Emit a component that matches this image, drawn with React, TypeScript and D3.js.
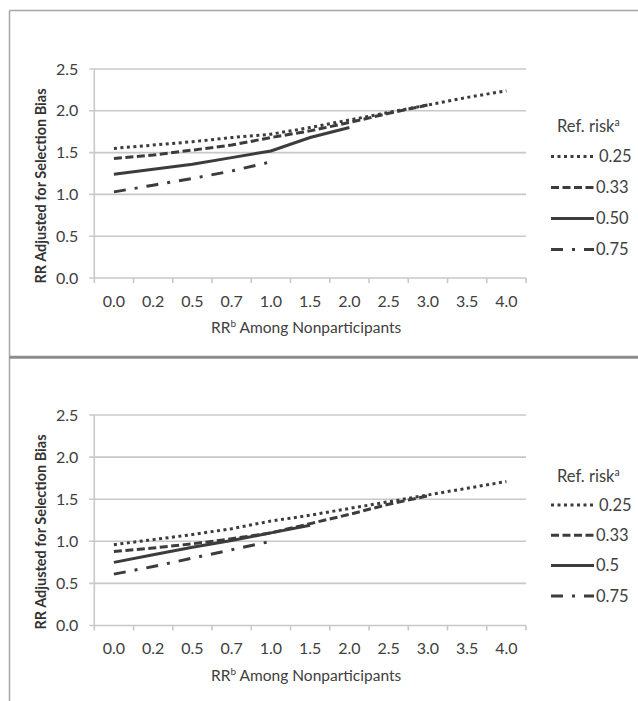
import React, { useEffect, useRef } from 'react';
import * as d3 from 'd3';

// x categories: RR among nonparticipants
const categories = ['0.0', '0.2', '0.5', '0.7', '1.0', '1.5', '2.0', '2.5', '3.0', '3.5', '4.0'];
const yTicks = [0, 0.5, 1, 1.5, 2, 2.5];

// top panel, one array per reference risk
const topRisk025 = [1.55, 1.59, 1.63, 1.68, 1.72, 1.80, 1.89, 1.98, 2.07, 2.16, 2.24];
const topRisk033 = [1.43, 1.47, 1.53, 1.59, 1.68, 1.76, 1.86, 1.97, 2.07];
const topRisk050 = [1.24, 1.30, 1.36, 1.44, 1.52, 1.68, 1.80];
const topRisk075 = [1.03, 1.11, 1.19, 1.28, 1.39];
const topLegendLabels = ['0.25', '0.33', '0.50', '0.75'];

// bottom panel
const bottomRisk025 = [0.96, 1.02, 1.08, 1.15, 1.24, 1.31, 1.39, 1.47, 1.55, 1.63, 1.71];
const bottomRisk033 = [0.88, 0.92, 0.97, 1.03, 1.10, 1.21, 1.32, 1.44, 1.54];
const bottomRisk050 = [0.75, 0.84, 0.93, 1.01, 1.10, 1.19];
const bottomRisk075 = [0.61, 0.70, 0.80, 0.90, 1.00];
const bottomLegendLabels = ['0.25', '0.33', '0.5', '0.75'];

const legendTitle = 'Ref. risk';
const yTitle = 'RR Adjusted for Selection Bias';

// line styles for 0.25, 0.33, 0.50, 0.75
const dashes = ['3,3.5', '8,3.5', null, '12,9,3,9'];

const FONT = 'Lato, "Open Sans", sans-serif';
const TEXT = '#404040';
const LINE = '#3c3c3c';
const GRID = '#c8c8c8';

const drawPanel = (svg, opts) => {
  const { top, bottom, series, legendLabels, legendTitleY, legendY0, legendStep } = opts;
  const left = 94.3;
  const right = 526;

  const x = d3.scaleBand().domain(categories).range([left, right]);
  const y = d3.scaleLinear().domain([0, 2.5]).range([bottom, top]);
  const g = svg.append('g');

  // gridlines (with 5px stub left of the axis)
  g.selectAll('line.grid')
    .data(yTicks)
    .join('line')
    .attr('x1', left - 5)
    .attr('x2', right)
    .attr('y1', d => y(d))
    .attr('y2', d => y(d))
    .attr('stroke', GRID)
    .attr('stroke-width', 1.6);

  // y axis line
  g.append('line')
    .attr('x1', left).attr('x2', left)
    .attr('y1', y(2.5)).attr('y2', y(0))
    .attr('stroke', GRID)
    .attr('stroke-width', 1.6);

  // y tick labels
  g.selectAll('text.ytick')
    .data(yTicks)
    .join('text')
    .attr('x', left - 16)
    .attr('y', d => y(d))
    .attr('dy', '0.35em')
    .attr('text-anchor', 'end')
    .attr('font-family', FONT)
    .attr('font-size', 16)
    .attr('fill', TEXT)
    .text(d => d3.format('.1f')(d));

  // x ticks at band boundaries
  const bounds = d3.range(categories.length + 1).map(i => left + i * x.step());
  g.selectAll('line.xtick')
    .data(bounds)
    .join('line')
    .attr('x1', d => d).attr('x2', d => d)
    .attr('y1', y(0)).attr('y2', y(0) + 5)
    .attr('stroke', GRID)
    .attr('stroke-width', 1.6);

  // x tick labels
  g.selectAll('text.xtick')
    .data(categories)
    .join('text')
    .attr('x', d => x(d) + x.bandwidth() / 2)
    .attr('y', y(0) + 23)
    .attr('dy', '0.35em')
    .attr('text-anchor', 'middle')
    .attr('font-family', FONT)
    .attr('font-size', 16)
    .attr('fill', TEXT)
    .text(d => d);

  // x title
  const xt = g.append('text')
    .attr('x', (left + right) / 2 - 4)
    .attr('y', y(0) + 50)
    .attr('dy', '0.35em')
    .attr('text-anchor', 'middle')
    .attr('font-family', FONT)
    .attr('font-size', 15.5)
    .attr('fill', TEXT);
  xt.append('tspan').text('RR');
  xt.append('tspan').attr('dy', -6).attr('font-size', 10).text('b');
  xt.append('tspan').attr('dy', 6).text(' Among Nonparticipants');

  // y title
  g.append('text')
    .attr('transform', `translate(41,${top + 117}) rotate(-90)`)
    .attr('dy', '0.35em')
    .attr('text-anchor', 'middle')
    .attr('font-family', FONT)
    .attr('font-size', 14.5)
    .attr('font-weight', 'bold')
    .attr('fill', '#333')
    .text(yTitle);

  // series
  const line = d3.line()
    .x((d, i) => x(categories[i]) + x.bandwidth() / 2)
    .y(d => y(d));

  series.forEach((values, k) => {
    g.append('path')
      .datum(values)
      .attr('fill', 'none')
      .attr('stroke', LINE)
      .attr('stroke-width', 3)
      .attr('stroke-dasharray', dashes[k])
      .attr('d', line);
  });

  // legend
  const lt = g.append('text')
    .attr('x', 557)
    .attr('y', legendTitleY)
    .attr('dy', '0.35em')
    .attr('font-family', FONT)
    .attr('font-size', 16.5)
    .attr('fill', TEXT);
  lt.append('tspan').text(legendTitle);
  lt.append('tspan').attr('dy', -6).attr('font-size', 10.5).text('a');

  legendLabels.forEach((label, k) => {
    const ly = legendY0 + k * legendStep;
    g.append('line')
      .attr('x1', 551).attr('x2', 594)
      .attr('y1', ly).attr('y2', ly)
      .attr('stroke', LINE)
      .attr('stroke-width', 3)
      .attr('stroke-dasharray', dashes[k]);
    g.append('text')
      .attr('x', k === 0 ? 599 : 596)
      .attr('y', ly)
      .attr('dy', '0.35em')
      .attr('font-family', FONT)
      .attr('font-size', 16.5)
      .attr('fill', TEXT)
      .text(label);
  });
};

const App = () => {
  const svgRef = useRef(null);

  useEffect(() => {
    const svg = d3.select(svgRef.current);
    svg.selectAll('*').remove();

    svg.append('rect').attr('width', 638).attr('height', 701).attr('fill', 'white');

    // outer frame and separator
    svg.append('line')
      .attr('x1', 9.5).attr('x2', 638).attr('y1', 10.5).attr('y2', 10.5)
      .attr('stroke', '#a6a6a6').attr('stroke-width', 1.5);
    svg.append('line')
      .attr('x1', 9.5).attr('x2', 9.5).attr('y1', 10.5).attr('y2', 701)
      .attr('stroke', '#a6a6a6').attr('stroke-width', 1.5);
    svg.append('line')
      .attr('x1', 9.5).attr('x2', 638).attr('y1', 357.3).attr('y2', 357.3)
      .attr('stroke', '#8c8c8c').attr('stroke-width', 3);

    drawPanel(svg, {
      top: 69,
      bottom: 278,
      series: [topRisk025, topRisk033, topRisk050, topRisk075],
      legendLabels: topLegendLabels,
      legendTitleY: 126,
      legendY0: 156.5,
      legendStep: 31,
    });

    drawPanel(svg, {
      top: 415,
      bottom: 625.5,
      series: [bottomRisk025, bottomRisk033, bottomRisk050, bottomRisk075],
      legendLabels: bottomLegendLabels,
      legendTitleY: 476,
      legendY0: 505,
      legendStep: 30.3,
    });
  }, []);

  return (
    <svg
      ref={svgRef}
      width={638}
      height={701}
      style={{ position: 'absolute', left: 0, top: 0, display: 'block' }}
    />
  );
};

export default App;
